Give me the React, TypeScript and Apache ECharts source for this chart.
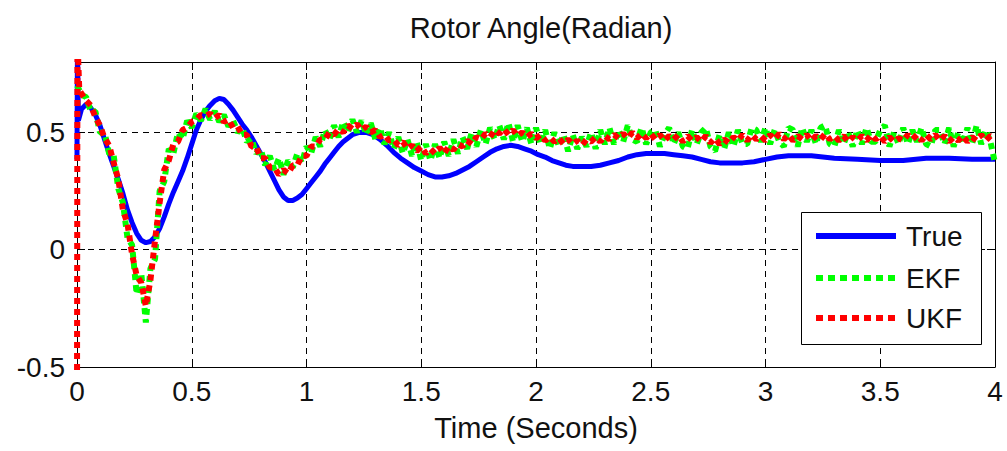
import React, { useEffect, useRef } from "react";
import * as echarts from "echarts";

// ---- Data ----
const trueTime = [
  0, 0.002, 0.006, 0.02, 0.04, 0.06, 0.08, 0.1, 0.12, 0.14, 0.16, 0.18, 0.2, 0.22, 0.24, 0.26, 0.28, 0.3, 0.32, 0.34,
  0.36, 0.38, 0.4, 0.42, 0.44, 0.46, 0.48, 0.5, 0.52, 0.54, 0.56, 0.58, 0.6, 0.62, 0.64, 0.66, 0.68, 0.7, 0.72, 0.74,
  0.76, 0.78, 0.8, 0.82, 0.84, 0.86, 0.88, 0.9, 0.92, 0.94, 0.96, 0.98, 1.0, 1.02, 1.04, 1.06, 1.08, 1.1, 1.12, 1.14,
  1.16, 1.18, 1.2, 1.23, 1.26, 1.29, 1.32, 1.35, 1.38, 1.41, 1.44, 1.47, 1.5, 1.53, 1.56, 1.59, 1.62, 1.65, 1.68, 1.71,
  1.74, 1.77, 1.8, 1.83, 1.86, 1.89, 1.92, 1.95, 1.98, 2.01, 2.04, 2.07, 2.1, 2.13, 2.16, 2.2, 2.24, 2.28, 2.32, 2.36,
  2.4, 2.44, 2.48, 2.52, 2.56, 2.6, 2.64, 2.68, 2.72, 2.76, 2.8, 2.85, 2.9, 2.95, 3.0, 3.05, 3.1, 3.2, 3.3, 3.4,
  3.5, 3.6, 3.7, 3.8, 3.9, 4.0,
];
const trueValue = [
  0.385, 0.9, 0.55, 0.6, 0.62, 0.605, 0.575, 0.53, 0.47, 0.41, 0.355, 0.3, 0.24, 0.17, 0.115, 0.07, 0.04, 0.03, 0.035, 0.055,
  0.09, 0.14, 0.195, 0.245, 0.29, 0.335, 0.39, 0.45, 0.51, 0.555, 0.59, 0.615, 0.635, 0.645, 0.64, 0.62, 0.595, 0.565, 0.535, 0.51,
  0.48, 0.445, 0.41, 0.375, 0.335, 0.295, 0.255, 0.225, 0.21, 0.21, 0.22, 0.235, 0.26, 0.285, 0.31, 0.335, 0.365, 0.39, 0.415, 0.44,
  0.46, 0.475, 0.49, 0.5, 0.5, 0.49, 0.47, 0.445, 0.415, 0.39, 0.37, 0.35, 0.335, 0.32, 0.31, 0.31, 0.315, 0.325, 0.34, 0.355,
  0.375, 0.395, 0.415, 0.43, 0.44, 0.445, 0.44, 0.43, 0.42, 0.405, 0.395, 0.38, 0.37, 0.36, 0.355, 0.355, 0.355, 0.36, 0.37, 0.38,
  0.395, 0.405, 0.41, 0.41, 0.41, 0.405, 0.4, 0.395, 0.385, 0.375, 0.37, 0.37, 0.37, 0.375, 0.385, 0.395, 0.4, 0.4, 0.39, 0.385,
  0.38, 0.38, 0.39, 0.39, 0.385, 0.385,
];

// EKF / UKF sampled every 0.02 s from t = 0 to t = 4 (201 samples)
const sampleStep = 0.02;
const ekfValue = [
  0.7, 0.66, 0.65, 0.59, 0.59, 0.5, 0.5, 0.41, 0.4, 0.26,
  0.2, 0.05, 0.02, -0.19, -0.1, -0.31, -0.08, -0.04, 0.25, 0.29,
  0.43, 0.41, 0.5, 0.47, 0.55, 0.52, 0.58, 0.55, 0.6, 0.555,
  0.59, 0.545, 0.575, 0.525, 0.55, 0.5, 0.52, 0.46, 0.475, 0.41,
  0.43, 0.36, 0.4, 0.34, 0.39, 0.32, 0.38, 0.35, 0.41, 0.37,
  0.44, 0.41, 0.48, 0.44, 0.51, 0.47, 0.53, 0.48, 0.545, 0.5,
  0.555, 0.5, 0.55, 0.49, 0.54, 0.47, 0.52, 0.45, 0.5, 0.43,
  0.48, 0.41, 0.47, 0.4, 0.46, 0.38, 0.45, 0.38, 0.45, 0.39,
  0.46, 0.4, 0.47, 0.41, 0.48, 0.43, 0.5, 0.44, 0.51, 0.45,
  0.52, 0.47, 0.53, 0.47, 0.54, 0.46, 0.53, 0.46, 0.52, 0.45,
  0.52, 0.45, 0.51, 0.43, 0.5, 0.44, 0.49, 0.42, 0.49, 0.43,
  0.48, 0.44, 0.5, 0.43, 0.51, 0.45, 0.52, 0.45, 0.51, 0.46,
  0.53, 0.47, 0.46, 0.52, 0.45, 0.5, 0.51, 0.44, 0.49, 0.52,
  0.45, 0.5, 0.44, 0.43, 0.51, 0.45, 0.5, 0.52, 0.44, 0.42,
  0.49, 0.43, 0.5, 0.44, 0.51, 0.45, 0.45, 0.52, 0.51, 0.46,
  0.52, 0.45, 0.51, 0.46, 0.44, 0.52, 0.51, 0.44, 0.52, 0.46,
  0.51, 0.45, 0.52, 0.53, 0.45, 0.44, 0.51, 0.45, 0.5, 0.44,
  0.51, 0.45, 0.52, 0.46, 0.46, 0.51, 0.53, 0.44, 0.5, 0.45,
  0.52, 0.45, 0.51, 0.46, 0.52, 0.45, 0.44, 0.51, 0.51, 0.45,
  0.52, 0.44, 0.5, 0.45, 0.52, 0.45, 0.53, 0.45, 0.51, 0.46,
  0.37,
];
const ukfStartTime = [0, 0.002];
const ukfStartValue = [-0.7, 0.9];
const ukfValue = [
  0.68, 0.665, 0.635, 0.615, 0.565, 0.53, 0.475, 0.445, 0.37, 0.3,
  0.17, 0.11, -0.02, -0.11, -0.14, -0.24, -0.13, 0.04, 0.2, 0.34,
  0.38, 0.45, 0.46, 0.51, 0.52, 0.545, 0.555, 0.575, 0.57, 0.58,
  0.56, 0.575, 0.545, 0.555, 0.52, 0.525, 0.49, 0.49, 0.44, 0.44,
  0.39, 0.39, 0.35, 0.35, 0.32, 0.34, 0.325, 0.36, 0.36, 0.4,
  0.4, 0.44, 0.44, 0.47, 0.47, 0.5, 0.49, 0.515, 0.5, 0.53,
  0.515, 0.535, 0.51, 0.525, 0.5, 0.51, 0.48, 0.49, 0.465, 0.47,
  0.445, 0.46, 0.43, 0.445, 0.42, 0.44, 0.41, 0.43, 0.41, 0.435,
  0.41, 0.44, 0.425, 0.45, 0.44, 0.465, 0.45, 0.48, 0.47, 0.495,
  0.48, 0.51, 0.495, 0.515, 0.49, 0.51, 0.485, 0.5, 0.48, 0.495,
  0.475, 0.49, 0.465, 0.48, 0.46, 0.475, 0.45, 0.47, 0.45, 0.465,
  0.445, 0.47, 0.46, 0.48, 0.46, 0.485, 0.47, 0.49, 0.475, 0.495,
  0.475, 0.5, 0.475, 0.495, 0.475, 0.495, 0.47, 0.49, 0.465, 0.485,
  0.47, 0.49, 0.46, 0.485, 0.465, 0.48, 0.46, 0.485, 0.455, 0.475,
  0.45, 0.47, 0.455, 0.48, 0.465, 0.49, 0.465, 0.49, 0.47, 0.485,
  0.465, 0.49, 0.47, 0.495, 0.47, 0.49, 0.465, 0.485, 0.47, 0.49,
  0.465, 0.485, 0.47, 0.495, 0.47, 0.485, 0.465, 0.485, 0.46, 0.48,
  0.465, 0.485, 0.465, 0.49, 0.47, 0.485, 0.46, 0.48, 0.46, 0.475,
  0.465, 0.49, 0.47, 0.49, 0.465, 0.49, 0.47, 0.49, 0.465, 0.485,
  0.46, 0.48, 0.465, 0.485, 0.46, 0.48, 0.465, 0.49, 0.465, 0.485,
  0.475,
];

const seriesNames = ["True", "EKF", "UKF"];
const seriesColors = ["#0000ff", "#00ff00", "#ff0000"];
const titleText = "Rotor Angle(Radian)";
const xAxisTitle = "Time (Seconds)";

const FONT = "Arial, 'Liberation Sans', sans-serif";

export default function App() {
  const ref = useRef<HTMLDivElement>(null);
  useEffect(() => {
    if (!ref.current) return;
    const chart = echarts.init(ref.current, undefined, { renderer: "svg" });

    const trueData = trueTime.map((t, i) => [t, trueValue[i]]);
    const ekfData = ekfValue.map((v, i) => [+(i * sampleStep).toFixed(3), v]);
    const ukfRegular = ukfValue.map((v, i) => [i === 0 ? 0.01 : +(i * sampleStep).toFixed(3), v]);
    const ukfData = ukfStartTime.map((t, i) => [t, ukfStartValue[i]]).concat(ukfRegular);

    const dotted = [6, 5];

    // Legend drawn as graphic elements (box, samples, labels)
    const lgX = 801, lgY = 212, lgW = 180, lgH = 132;
    const rowY = [236, 278, 318];
    const lineDash = [null, [7, 5], [7, 5]];
    const legendEls: any[] = [
      {
        type: "rect",
        shape: { x: lgX + 0.5, y: lgY + 0.5, width: lgW, height: lgH },
        style: { fill: "#fff", stroke: "#000", lineWidth: 1 },
        z: 100,
      },
    ];
    seriesNames.forEach((n, i) => {
      legendEls.push({
        type: "line",
        shape: { x1: 816, y1: rowY[i], x2: 896, y2: rowY[i] },
        style: { stroke: seriesColors[i], lineWidth: 6, lineDash: lineDash[i] || undefined },
        z: 101,
      });
      legendEls.push({
        type: "text",
        x: 906,
        y: rowY[i],
        style: { text: n, fontFamily: FONT, fontSize: 28, fill: "#111", verticalAlign: "middle", align: "left" },
        z: 101,
      });
    });

    chart.setOption({
      animation: false,
      backgroundColor: "#ffffff",
      title: {
        text: titleText,
        left: 536,
        top: 8,
        textAlign: "center",
        textStyle: { fontFamily: FONT, fontSize: 29, fontWeight: "normal", color: "#111" },
      },
      graphic: legendEls,
      grid: { left: 77, right: 12, top: 62, bottom: 84, containLabel: false },
      xAxis: [
        {
          type: "value",
          min: 0,
          max: 4,
          interval: 0.5,
          name: xAxisTitle,
          nameLocation: "middle",
          nameGap: 46,
          nameTextStyle: { fontFamily: FONT, fontSize: 29, color: "#111" },
          axisLine: { show: true, onZero: false, lineStyle: { color: "#000", width: 1 } },
          axisTick: { show: true, inside: true, length: 8, lineStyle: { color: "#000" } },
          axisLabel: { fontFamily: FONT, fontSize: 28, color: "#111", margin: 10 },
          splitLine: { show: true, lineStyle: { color: "#000", type: [6, 5], width: 1 } },
        },
        {
          type: "value",
          position: "top",
          min: 0,
          max: 4,
          interval: 0.5,
          axisLine: { show: true, onZero: false, lineStyle: { color: "#000", width: 1 } },
          axisTick: { show: true, inside: true, length: 8, lineStyle: { color: "#000" } },
          axisLabel: { show: false },
          splitLine: { show: false },
        },
      ],
      yAxis: [
        {
          type: "value",
          min: -0.5,
          max: 0.8,
          interval: 0.5,
          axisLine: { show: true, onZero: false, lineStyle: { color: "#000", width: 1 } },
          axisTick: { show: true, inside: true, length: 8, lineStyle: { color: "#000" } },
          axisLabel: { fontFamily: FONT, fontSize: 28, color: "#111", margin: 12, showMaxLabel: false },
          splitLine: { show: true, lineStyle: { color: "#000", type: [6, 5], width: 1 } },
        },
        {
          type: "value",
          position: "right",
          min: -0.5,
          max: 0.8,
          interval: 0.5,
          axisLine: { show: true, onZero: false, lineStyle: { color: "#000", width: 1 } },
          axisTick: { show: true, inside: true, length: 8, lineStyle: { color: "#000" } },
          axisLabel: { show: false },
          splitLine: { show: false },
        },
      ],
      series: [
        {
          name: seriesNames[0],
          type: "line",
          data: trueData,
          symbol: "none",
          clip: true,
          color: seriesColors[0],
          lineStyle: { color: seriesColors[0], width: 5, type: "solid" },
          z: 2,
        },
        {
          name: seriesNames[1],
          type: "line",
          data: ekfData,
          symbol: "none",
          clip: true,
          color: seriesColors[1],
          lineStyle: { color: seriesColors[1], width: 6, type: dotted },
          z: 3,
        },
        {
          name: seriesNames[2],
          type: "line",
          data: ukfData,
          symbol: "none",
          clip: true,
          color: seriesColors[2],
          lineStyle: { color: seriesColors[2], width: 6, type: dotted },
          z: 4,
        },
      ],
    });
    return () => chart.dispose();
  }, []);

  return (
    <div
      ref={ref}
      style={{ position: "fixed", left: 0, top: 0, width: 1007, height: 451, background: "#fff" }}
    />
  );
}
